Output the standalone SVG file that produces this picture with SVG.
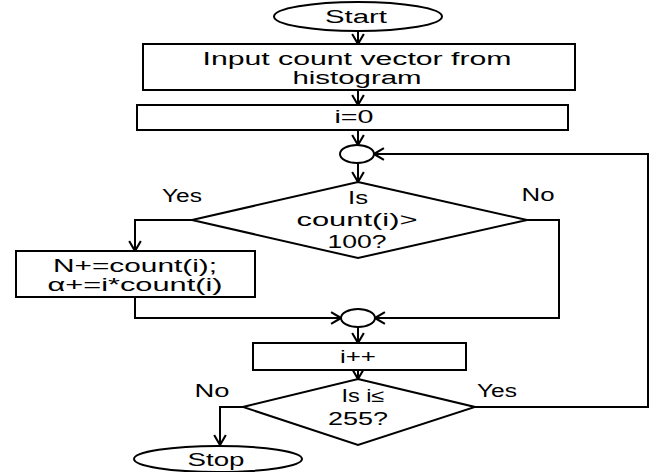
<svg xmlns="http://www.w3.org/2000/svg" width="658" height="472" viewBox="0 0 658 472">
<style>
.s{fill:#fff;stroke:#000;stroke-width:2}
.c{fill:none;stroke:#000;stroke-width:2}
text{font-family:"Liberation Sans","Open Sans",sans-serif;font-size:18px;fill:#000}
.m{text-anchor:middle}
</style>
<defs>
<marker id="ah" markerUnits="userSpaceOnUse" markerWidth="12" markerHeight="14" viewBox="0 0 10 12" refX="9.5" refY="6" orient="auto">
<path d="M1,1 L9.5,6 L1,11" fill="none" stroke="#000" stroke-width="1.8"/>
</marker>
</defs>
<rect width="658" height="472" fill="#fff"/>
<g id="connectors">
<path class="c" d="M358,31 V44" marker-end="url(#ah)"/>
<path class="c" d="M358,90 V105" marker-end="url(#ah)"/>
<path class="c" d="M358,130 V145" marker-end="url(#ah)"/>
<path class="c" d="M358,163 V182" marker-end="url(#ah)"/>
<path class="c" d="M192,220 H135 V251" marker-end="url(#ah)"/>
<path class="c" d="M135,297 V318 H341" marker-end="url(#ah)"/>
<path class="c" d="M527,220 H559 V318 H375" marker-end="url(#ah)"/>
<path class="c" d="M358,327 V343" marker-end="url(#ah)"/>
<path class="c" d="M358,370 V379" marker-end="url(#ah)"/>
<path class="c" d="M243,407 H220 V445" marker-end="url(#ah)"/>
<path class="c" d="M475,407 H648 V154 H374" marker-end="url(#ah)"/>
<text x="182" y="202" class="m" textLength="40" lengthAdjust="spacingAndGlyphs">Yes</text>
<text x="538" y="201" class="m" textLength="33" lengthAdjust="spacingAndGlyphs">No</text>
<text x="212" y="397" class="m" textLength="35" lengthAdjust="spacingAndGlyphs">No</text>
<text x="497" y="397" class="m" textLength="40" lengthAdjust="spacingAndGlyphs">Yes</text>
</g>
<g id="start">
<ellipse class="s" cx="358" cy="16.5" rx="84" ry="14.5"/>
<text x="356" y="23" class="m" textLength="62" lengthAdjust="spacingAndGlyphs">Start</text>
</g>
<g id="input">
<rect class="s" x="143" y="44" width="432" height="46"/>
<text x="357" y="65" class="m" textLength="309" lengthAdjust="spacingAndGlyphs">Input count vector from</text>
<text x="357" y="84" class="m" textLength="129" lengthAdjust="spacingAndGlyphs">histogram</text>
</g>
<g id="init">
<rect class="s" x="137" y="105" width="431" height="25"/>
<text x="354" y="123" class="m" textLength="39" lengthAdjust="spacingAndGlyphs">i=0</text>
</g>
<g id="join1">
<ellipse class="s" cx="357" cy="154" rx="17" ry="9"/>
</g>
<g id="decision1">
<polygon class="s" points="358,182 527,220 358,258 192,220"/>
<text x="358" y="204" class="m" textLength="20" lengthAdjust="spacingAndGlyphs">Is</text>
<text x="357" y="226" class="m" textLength="121" lengthAdjust="spacingAndGlyphs">count(i)&gt;</text>
<text x="357" y="248" class="m" textLength="59" lengthAdjust="spacingAndGlyphs">100?</text>
</g>
<g id="accumulate">
<rect class="s" x="16" y="251" width="239" height="46"/>
<text x="135" y="272" class="m" textLength="164" lengthAdjust="spacingAndGlyphs">N+=count(i);</text>
<text x="135" y="291" class="m" textLength="175" lengthAdjust="spacingAndGlyphs">α+=i*count(i)</text>
</g>
<g id="join2">
<ellipse class="s" cx="358" cy="318" rx="17" ry="9"/>
</g>
<g id="increment">
<rect class="s" x="253" y="343" width="213" height="27"/>
<text x="358" y="363" class="m" textLength="36" lengthAdjust="spacingAndGlyphs">i++</text>
</g>
<g id="decision2">
<polygon class="s" points="358,379 475,407 358,445 243,407"/>
<text x="363" y="402" class="m" textLength="43" lengthAdjust="spacingAndGlyphs">Is i≤</text>
<text x="358" y="425" class="m" textLength="60" lengthAdjust="spacingAndGlyphs">255?</text>
</g>
<g id="stop">
<ellipse class="s" cx="218" cy="459" rx="84" ry="13"/>
<text x="216" y="466" class="m" textLength="57" lengthAdjust="spacingAndGlyphs">Stop</text>
</g>
</svg>
